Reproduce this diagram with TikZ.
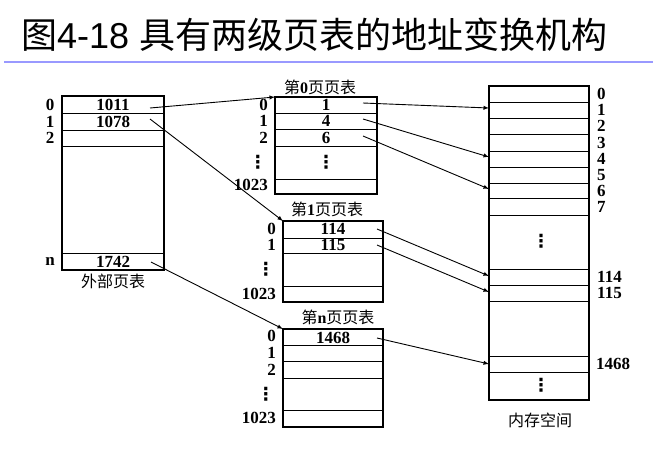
\documentclass[tikz,border=0pt]{standalone}
\usepackage{fontspec}
\setmainfont{Liberation Serif}
\newfontfamily\cjk{Noto Sans CJK SC}
\newfontfamily\titlefont{Liberation Sans}
\newfontfamily\symfont{DejaVu Sans}
\usetikzlibrary{arrows}

\begin{document}
\begin{tikzpicture}[>=latex, x=1pt, y=-1pt,
	num/.style={font=\fontsize{17}{17}\selectfont\bfseries, inner sep=0pt},
	dots/.style={font=\fontsize{18}{18}\selectfont\symfont\bfseries, inner sep=0pt},
	cnlabel/.style={font=\fontsize{16}{16}\selectfont\cjk, inner sep=0pt},
	tab/.style={line width=1.6pt},
	row/.style={line width=1pt},
	link/.style={line width=0.9pt, ->}]
	\useasboundingbox (0,0) rectangle (659,448);
	%%%	Titolo
	\node[anchor=west, inner sep=0pt, font=\fontsize{36}{36}\selectfont] (titolo) at (21,35) {{\cjk 图}\titlefont 4-18 {\cjk 具有两级页表的地址变换机构}};
	\draw[line width=2pt, color={rgb,255:red,153;green,153;blue,255}] (4,62) -- (653,62);
	%%%	Disegno
	% Tabella esterna
	\draw[tab] (62,96) rectangle (164,270);
	\foreach \y in {113,130,146,253} \draw[row] (62,\y) -- (164,\y);
	\node[num] (o0) at (113,104.5) {1011};
	\node[num] (o1) at (113,121.5) {1078};
	\node[num] (on) at (113,261.5) {1742};
	\node[num] at (50,104.5) {0};
	\node[num] at (50,121.5) {1};
	\node[num] at (50,138) {2};
	\node[num] at (50,261.5) {n};
	\node[cnlabel] (esterna) at (113,281) {外部页表};
	\coordinate (o0s) at (150,108);
	\coordinate (o1s) at (150,119);
	\coordinate (ons) at (151,262);
	
	% Pagina 0
	\draw[tab] (275,97) rectangle (377,194);
	\foreach \y in {113,129,146,179} \draw[row] (275,\y) -- (377,\y);
	\coordinate (p0) at (275,97);
	\node[cnlabel] (t0) at (320,87) {第{\bfseries\rmfamily 0}页页表};
	\node[num] (a0) at (326,105) {1};
	\node[num] (a1) at (326,121) {4};
	\node[num] (a2) at (326,137.5) {6};
	\node[dots] at (326,162) {⋮};
	\node[num, anchor=east] at (268,105) {0};
	\node[num, anchor=east] at (268,121) {1};
	\node[num, anchor=east] at (268,137.5) {2};
	\node[dots, anchor=east] at (267,162) {⋮};
	\node[num, anchor=east] at (268,185) {1023};
	\coordinate (a0s) at (363,103);
	\coordinate (a1s) at (363,119);
	\coordinate (a2s) at (363,136);
	
	% Pagina 1
	\draw[tab] (283,221) rectangle (383,302);
	\foreach \y in {238,253,286} \draw[row] (283,\y) -- (383,\y);
	\coordinate (p1) at (283,221);
	\node[cnlabel] (t1) at (327,209) {第{\bfseries\rmfamily 1}页页表};
	\node[num] (b0) at (333,229) {114};
	\node[num] (b1) at (333,245) {115};
	\node[num, anchor=east] at (276,229) {0};
	\node[num, anchor=east] at (276,245) {1};
	\node[dots, anchor=east] at (275,269) {⋮};
	\node[num, anchor=east] at (276,294) {1023};
	\coordinate (b0s) at (377,229);
	\coordinate (b1s) at (377,245);
	
	% Pagina n
	\draw[tab] (283,329) rectangle (383,427);
	\foreach \y in {345,361,378,410} \draw[row] (283,\y) -- (383,\y);
	\coordinate (pn) at (283,329);
	\node[cnlabel] (tn) at (338,317) {第{\bfseries\rmfamily n}页页表};
	\node[num] (c0) at (333,337.5) {1468};
	\node[num, anchor=east] at (276,336) {0};
	\node[num, anchor=east] at (276,353) {1};
	\node[num, anchor=east] at (276,369.5) {2};
	\node[dots, anchor=east] at (275,394) {⋮};
	\node[num, anchor=east] at (276,418) {1023};
	\coordinate (c0s) at (377,338);
	
	% Memoria
	\draw[tab] (489,86) rectangle (589,400);
	\foreach \y in {102,118,134,151,167,183,198,215,269,285,301,356,372} \draw[row] (489,\y) -- (589,\y);
	\foreach \n/\y in {0/94,1/110,2/126,3/142.5,4/159,5/175,6/190.5,7/206.5}
	\node[num, anchor=west] at (597,\y) {\n};
	\node[num, anchor=west] at (597,277) {114};
	\node[num, anchor=west] at (597,293) {115};
	\node[num, anchor=west] at (596,364) {1468};
	\node[dots] at (541,241) {⋮};
	\node[dots] at (541,385) {⋮};
	\node[cnlabel] (memoria) at (540,420) {内存空间};
	\coordinate (m1) at (489,108);
	\coordinate (m4) at (489,157);
	\coordinate (m6) at (489,189);
	\coordinate (m114) at (489,276);
	\coordinate (m115) at (489,292);
	\coordinate (m1468) at (489,364);
	
	% Frecce
	\draw[link] (o0s) -- (p0);
	\draw[link] (o1s) -- (p1);
	\draw[link] (ons) -- (pn);
	\draw[link] (a0s) -- (m1);
	\draw[link] (a1s) -- (m4);
	\draw[link] (a2s) -- (m6);
	\draw[link] (b0s) -- (m114);
	\draw[link] (b1s) -- (m115);
	\draw[link] (c0s) -- (m1468);
	
\end{tikzpicture}
\end{document}
